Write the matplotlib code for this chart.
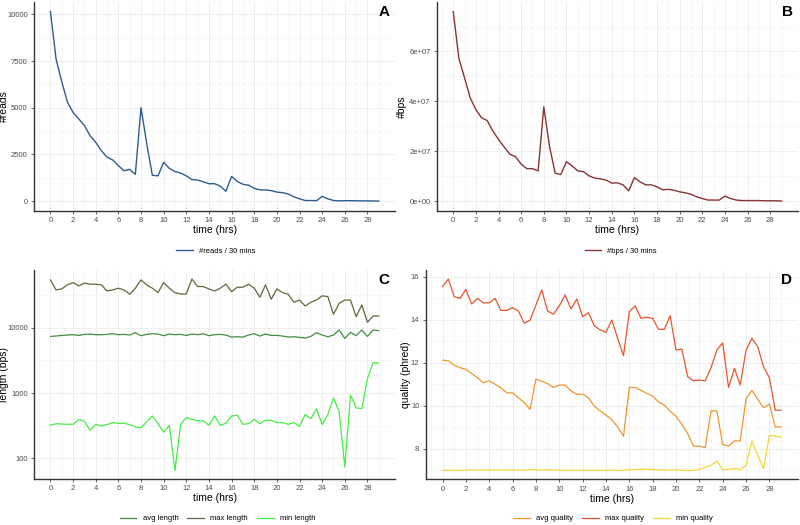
import numpy as np
import matplotlib
matplotlib.use("Agg")
import matplotlib.pyplot as plt
from matplotlib.ticker import FixedLocator, FuncFormatter

plt.rcParams["font.family"] = ["Liberation Sans", "DejaVu Sans"]

# time in hours, one point per 30 mins
hours = np.arange(0, 29.5, 0.5)

reads = [10150, 7600, 6400, 5300, 4750, 4400, 4050, 3500, 3150, 2700,
         2350, 2200, 1900, 1620, 1700, 1430, 5000, 3100, 1380, 1350,
         2080, 1750, 1580, 1500, 1350, 1150, 1130, 1030, 930, 930,
         800, 520, 1320, 1050, 900, 850, 680, 600, 590, 560,
         480, 450, 380, 230, 120, 30, 30, 20, 250, 120,
         30, 10, 20, 20, 15, 10, 10, 5, 0]

bps = [7.6e7, 5.73e7, 4.94e7, 4.14e7, 3.67e7, 3.34e7, 3.23e7, 2.81e7, 2.47e7, 2.17e7,
       1.88e7, 1.78e7, 1.48e7, 1.30e7, 1.30e7, 1.21e7, 3.78e7, 2.21e7, 1.12e7, 1.06e7,
       1.58e7, 1.41e7, 1.21e7, 1.18e7, 1.01e7, 9.2e6, 8.9e6, 8.4e6, 7.2e6, 7.3e6,
       6.5e6, 4.1e6, 9.4e6, 7.7e6, 6.5e6, 6.5e6, 5.7e6, 4.5e6, 4.7e6, 4.3e6,
       3.7e6, 3.3e6, 2.7e6, 1.7e6, 1.0e6, 4e5, 4e5, 4e5, 2.0e6, 1.0e6,
       4e5, 2e5, 2e5, 2e5, 2e5, 1e5, 1e5, 1e5, 0]

avg_len = [7360, 7450, 7620, 7720, 7810, 7620, 7900, 7990, 7810, 7810,
           7900, 8090, 7810, 7900, 7720, 8380, 7540, 7900, 8090, 7990,
           7540, 7990, 7810, 7900, 7620, 7990, 7810, 8090, 7540, 7810,
           7900, 7720, 7190, 7270, 7190, 7720, 8090, 7450, 7990, 7620,
           7620, 7450, 7190, 7270, 7110, 6940, 7360, 8380, 7720, 7270,
           7720, 9210, 6860, 8490, 7540, 9210, 7360, 9210, 8990]

max_len = [53800, 37800, 39200, 45200, 49000, 43600, 47900, 46300, 46300, 45200,
           36500, 37800, 40200, 37800, 32500, 40200, 53800, 45200, 40200, 34400,
           49000, 40200, 34400, 32800, 32800, 55700, 42600, 42600, 39200, 36500,
           40200, 46300, 35600, 41600, 41600, 46300, 40200, 29200, 45200, 27200,
           39200, 34400, 32500, 24500, 26500, 21500, 24500, 26500, 30700, 29900,
           16000, 23600, 26500, 26500, 14700, 22300, 12100, 15100, 15100]

min_len = [321, 340, 336, 333, 333, 393, 372, 270, 333, 314,
           329, 353, 345, 345, 329, 304, 293, 361, 446, 340,
           252, 321, 65, 333, 421, 397, 376, 376, 321, 446,
           321, 345, 446, 457, 333, 340, 397, 340, 385, 385,
           353, 353, 333, 353, 310, 468, 407, 572, 329, 468,
           843, 514, 74, 929, 593, 579, 1670, 2900, 2900]

avg_q = [12.12, 12.09, 11.89, 11.77, 11.70, 11.50, 11.30, 11.07, 11.16, 11.00,
         10.83, 10.60, 10.60, 10.37, 10.15, 9.82, 11.24, 11.14, 11.03, 10.85,
         10.96, 10.96, 10.69, 10.54, 10.54, 10.37, 9.98, 9.76, 9.56, 9.35,
         9.01, 8.58, 10.85, 10.85, 10.72, 10.57, 10.44, 10.18, 10.02, 9.74,
         9.51, 9.14, 8.70, 8.11, 8.11, 8.05, 9.76, 9.76, 8.19, 8.12,
         8.36, 8.36, 10.33, 10.72, 10.30, 9.91, 10.07, 9.01, 9.01]

max_q = [15.55, 15.90, 15.08, 15.00, 15.42, 14.74, 15.00, 14.79, 14.79, 15.00,
         14.44, 14.44, 14.57, 14.41, 13.84, 13.99, 14.69, 15.39, 14.41, 14.26,
         14.65, 15.16, 14.51, 14.97, 14.15, 14.33, 13.73, 13.53, 13.42, 13.99,
         13.14, 12.33, 14.38, 14.65, 14.07, 14.12, 14.07, 13.56, 13.56, 14.19,
         12.59, 12.64, 11.35, 11.16, 11.19, 11.16, 11.77, 12.59, 12.93, 10.85,
         11.74, 10.96, 12.59, 13.14, 12.75, 11.81, 11.30, 9.79, 9.79]

min_q = [6.99, 6.99, 6.99, 6.99, 6.99, 7.01, 7.00, 7.00, 7.00, 7.00,
         7.00, 7.00, 7.00, 7.00, 6.99, 7.03, 7.00, 7.00, 7.02, 7.00,
         6.99, 6.99, 6.99, 6.99, 6.99, 6.99, 6.99, 6.99, 6.99, 7.00,
         6.98, 6.99, 7.01, 7.03, 7.04, 7.05, 7.02, 7.01, 7.00, 7.00,
         7.01, 6.99, 6.98, 6.99, 7.03, 7.14, 7.22, 7.42, 7.02, 7.03,
         7.07, 7.02, 7.22, 8.36, 7.69, 7.07, 8.62, 8.58, 8.54]

x_ticks = np.arange(0, 29, 2)

fig = plt.figure(figsize=(8, 5.25), dpi=100)
fig.patch.set_facecolor("white")


def style_ax(ax, letter, ylabel, ylab_x):
    ax.set_facecolor("white")
    for s in ["top", "right"]:
        ax.spines[s].set_visible(False)
    for s in ["left", "bottom"]:
        ax.spines[s].set_color("#333333")
        ax.spines[s].set_linewidth(1.0)
    ax.set_xlim(-1.45, 30.45)
    ax.set_xticks(x_ticks)
    ax.xaxis.set_minor_locator(FixedLocator(np.arange(-1, 31, 2)))
    ax.grid(True, which="major", color="#ebebeb", linewidth=0.6)
    ax.grid(True, which="minor", color="#f4f4f4", linewidth=0.4)
    ax.set_axisbelow(True)
    ax.tick_params(axis="both", which="major", labelsize=5.5, colors="#4d4d4d",
                   length=2.5, width=0.6, pad=2)
    ax.tick_params(axis="both", which="minor", length=0)
    ax.set_xlabel("time (hrs)", fontsize=7.5, labelpad=1)
    ax.set_ylabel(ylabel, fontsize=7.5)
    ax.yaxis.set_label_coords(ylab_x, 0.5)
    ax.text(0.985, 0.985, letter, transform=ax.transAxes, ha="right", va="top",
            fontsize=11, fontweight="bold")


# A: reads
axA = fig.add_axes([0.0425, 0.599, 0.4515, 0.397])
axA.plot(hours, reads, color="#2d5d8f", lw=1.0, label="#reads / 30 mins")
axA.set_ylim(-507, 10657)
axA.set_yticks([0, 2500, 5000, 7500, 10000])
axA.yaxis.set_minor_locator(FixedLocator([1250, 3750, 6250, 8750]))
style_ax(axA, "A", "#reads", -0.068)
axA.legend(loc="center", bbox_to_anchor=(0.27, 0.522), bbox_transform=fig.transFigure,
           frameon=False, fontsize=5.5, handlelength=2.2)

# B: bps
axB = fig.add_axes([0.546, 0.599, 0.4515, 0.397])
axB.plot(hours, bps, color="#8b3232", lw=1.0, label="#bps / 30 mins")
axB.set_ylim(-3.8e6, 7.98e7)
axB.set_yticks([0, 2e7, 4e7, 6e7])
axB.yaxis.set_major_formatter(FuncFormatter(lambda v, p: "0e+00" if v == 0 else "%de+07" % round(v / 1e7)))
axB.yaxis.set_minor_locator(FixedLocator([1e7, 3e7, 5e7, 7e7]))
style_ax(axB, "B", "#bps", -0.082)
axB.legend(loc="center", bbox_to_anchor=(0.776, 0.522), bbox_transform=fig.transFigure,
           frameon=False, fontsize=5.5, handlelength=2.2)

# C: read lengths
axC = fig.add_axes([0.0425, 0.088, 0.4515, 0.398])
axC.plot(hours, avg_len, color="#3f8f3f", lw=0.9, label="avg length")
axC.plot(hours, max_len, color="#5b6b3b", lw=0.9, label="max length")
axC.plot(hours, min_len, color="#44ee44", lw=0.9, label="min length")
axC.set_yscale("log")
axC.set_ylim(48.8, 76700)
axC.yaxis.set_major_locator(FixedLocator([100, 1000, 10000]))
axC.yaxis.set_major_formatter(FuncFormatter(lambda v, p: "%d" % v))
axC.yaxis.set_minor_locator(FixedLocator([10 ** 2.5, 10 ** 3.5, 10 ** 4.5]))
axC.yaxis.set_minor_formatter(FuncFormatter(lambda v, p: ""))
style_ax(axC, "C", "length (bps)", -0.068)
axC.legend(loc="center", bbox_to_anchor=(0.272, 0.012), bbox_transform=fig.transFigure,
           frameon=False, fontsize=5.5, ncol=3, handlelength=2.2, columnspacing=1.2)

# D: quality
axD = fig.add_axes([0.532, 0.087, 0.4655, 0.399])
axD.plot(hours, avg_q, color="#f0962e", lw=0.9, label="avg quality")
axD.plot(hours, max_q, color="#e8552d", lw=0.9, label="max quality")
axD.plot(hours, min_q, color="#f7d437", lw=0.9, label="min quality")
axD.set_ylim(6.57, 16.33)
axD.set_yticks([8, 10, 12, 14, 16])
axD.yaxis.set_minor_locator(FixedLocator([7, 9, 11, 13, 15]))
style_ax(axD, "D", "quality (phred)", -0.04)
axD.legend(loc="center", bbox_to_anchor=(0.766, 0.012), bbox_transform=fig.transFigure,
           frameon=False, fontsize=5.5, ncol=3, handlelength=2.2, columnspacing=1.2)

fig.savefig("out.png", dpi=100, facecolor="white")
